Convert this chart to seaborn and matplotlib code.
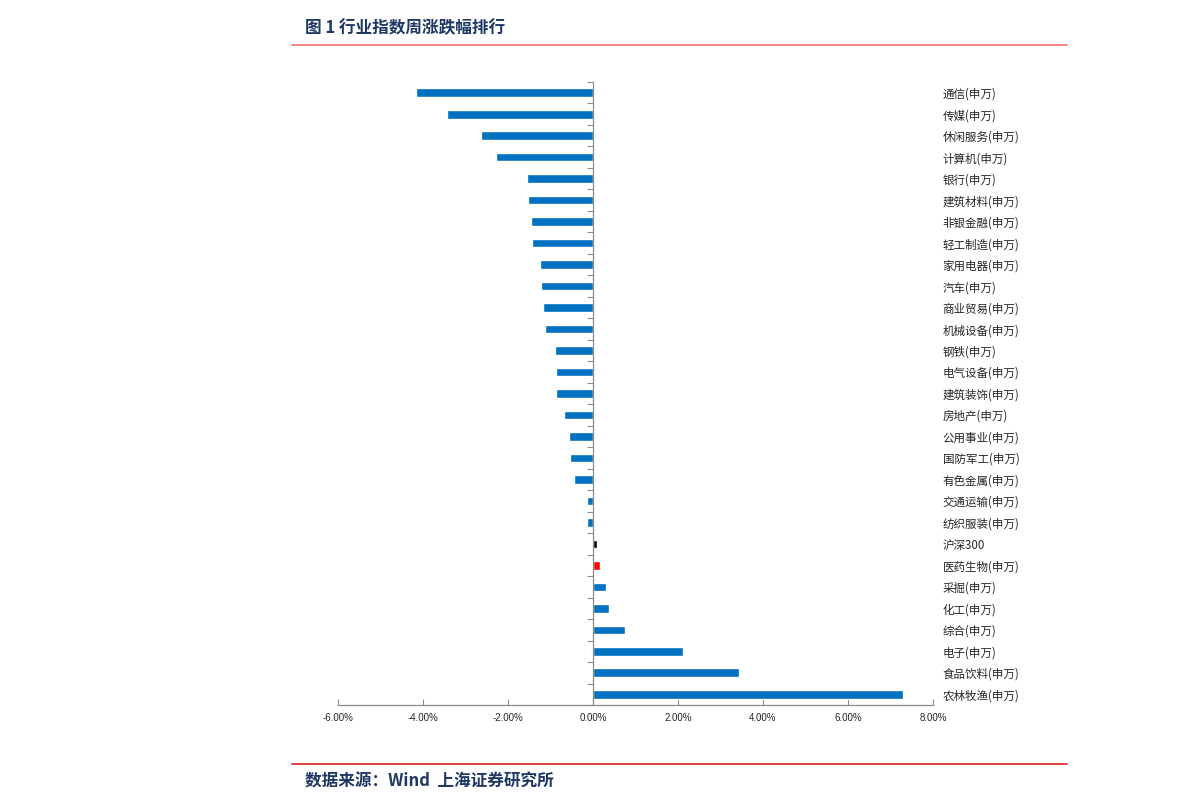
import numpy as np
import pandas as pd
import matplotlib
matplotlib.use('Agg')
import matplotlib.pyplot as plt
from matplotlib.ticker import FixedLocator, PercentFormatter
import seaborn as sns

# 行业周涨跌幅 (%)，从上到下
hangye = ['通信(申万)', '传媒(申万)', '休闲服务(申万)', '计算机(申万)', '银行(申万)',
          '建筑材料(申万)', '非银金融(申万)', '轻工制造(申万)', '家用电器(申万)', '汽车(申万)',
          '商业贸易(申万)', '机械设备(申万)', '钢铁(申万)', '电气设备(申万)', '建筑装饰(申万)',
          '房地产(申万)', '公用事业(申万)', '国防军工(申万)', '有色金属(申万)', '交通运输(申万)',
          '纺织服装(申万)', '沪深300', '医药生物(申万)', '采掘(申万)', '化工(申万)',
          '综合(申万)', '电子(申万)', '食品饮料(申万)', '农林牧渔(申万)']
zhangdie = [-4.16, -3.44, -2.64, -2.28, -1.55, -1.53, -1.46, -1.44, -1.25, -1.22,
            -1.18, -1.13, -0.89, -0.87, -0.87, -0.68, -0.56, -0.54, -0.45, -0.14,
            -0.14, 0.09, 0.16, 0.31, 0.38, 0.75, 2.12, 3.44, 7.29]
x_ticks = [-6, -4, -2, 0, 2, 4, 6, 8]

sns.set_style('white')
plt.rcParams['font.family'] = ['Noto Sans CJK SC', 'DejaVu Sans']
plt.rcParams['axes.unicode_minus'] = False

yanse = []
for h in hangye:
    if h == '沪深300':
        yanse.append('#000000')
    elif h.startswith('医药生物'):
        yanse.append('#FF0000')
    else:
        yanse.append('#0070C0')

df = pd.DataFrame({'行业': hangye, '涨跌幅': zhangdie})

fig = plt.figure(figsize=(11.91, 8.10), dpi=100)
ax = fig.add_axes([338/1191, 1-705/810, (933-338)/1191, (705-82)/810])
sns.barplot(data=df, x='涨跌幅', y='行业', hue='行业', palette=yanse, width=0.4,
            orient='h', legend=False, ax=ax, saturation=1)

ax.set_xlim(-6, 8)
ax.set_ylim(len(hangye) - 0.5, -0.5)
ax.set_xticks(x_ticks)
ax.xaxis.set_major_formatter(PercentFormatter(decimals=2))
ax.set_xlabel('')
ax.set_ylabel('')

for s in ['top', 'right']:
    ax.spines[s].set_visible(False)
ax.spines['left'].set_position(('data', 0))
ax.spines['left'].set_color('#8c8c8c')
ax.spines['bottom'].set_color('#8c8c8c')
ax.spines['left'].set_linewidth(0.9)
ax.spines['bottom'].set_linewidth(0.9)

# 类别标签放右侧，零轴上画分隔刻度
ax.yaxis.set_minor_locator(FixedLocator(np.arange(-0.5, len(hangye), 1.0)))
ax.tick_params(axis='y', which='major', left=False, right=False,
               labelleft=False, labelright=True, pad=3.5, labelsize=8.3)
ax.tick_params(axis='y', which='minor', left=True, right=False, length=4,
               width=0.8, color='#8c8c8c', direction='out')
ax.tick_params(axis='x', which='major', bottom=True, direction='in', length=4,
               width=0.8, color='#8c8c8c', labelsize=7, pad=6)
for lab in ax.get_xticklabels():
    lab.set_family(['Liberation Sans', 'DejaVu Sans'])

# 标题与来源
fig.text(305/1191, 1-28/810, '图 1 行业指数周涨跌幅排行', fontsize=12, fontweight='bold',
         color='#1F3864', va='center', ha='left')
fig.add_artist(plt.Line2D([292/1191, 1067/1191], [1-45/810, 1-45/810],
                          color='#F07070', lw=1.2))
fig.add_artist(plt.Line2D([292/1191, 1067/1191], [1-764/810, 1-764/810],
                          color='#E02020', lw=1.2))
fig.text(305/1191, 1-781/810, '数据来源：Wind  上海证券研究所', fontsize=12,
         fontweight='bold', fontstyle='italic', color='#1F3864', va='center', ha='left')

fig.savefig('out.png', dpi=100)
